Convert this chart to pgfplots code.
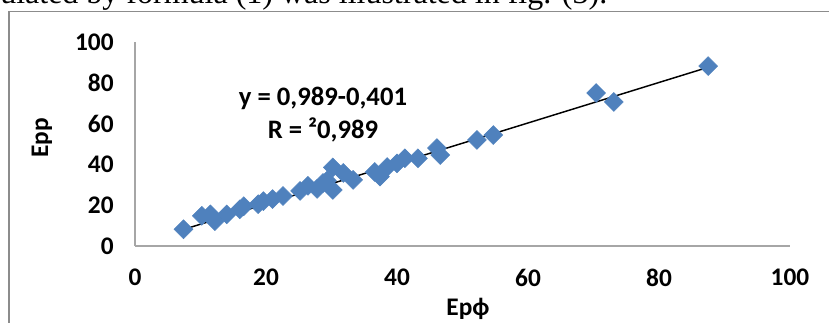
\documentclass[border=0pt]{standalone}
\usepackage{pgfplots}
\pgfplotsset{compat=1.18}
\usepackage{fontspec}
\setmainfont{Carlito}
\newfontfamily\serif{Liberation Serif}
\definecolor{mblue}{HTML}{4F81BD}
\definecolor{axgray}{HTML}{A6A6A6}
\definecolor{framegray}{HTML}{8C8C8C}
\pgfplotstableread{
x y
7.4 8.2
10.2 14.8
11.5 15.5
12.2 12.2
14.0 15.5
16.0 18.0
16.6 19.5
18.8 20.5
19.6 22.0
21.0 23.0
22.6 24.5
25.2 27.0
26.4 29.5
27.8 28.0
29.3 32.0
28.7 30.9
30.2 27.5
30.2 38.5
31.8 35.8
33.3 32.4
36.6 36.3
37.4 34.0
38.5 38.7
40.0 40.5
41.2 43.0
43.2 43.0
46.1 48.0
46.6 44.6
52.2 52.0
54.7 54.4
70.4 75.0
73.1 70.6
87.5 88.2
}\datatable
\begin{document}
\begin{tikzpicture}
\useasboundingbox (0pt,0pt) rectangle (621.75pt,241.5pt);
\clip (0pt,0pt) rectangle (621.75pt,241.5pt);
% pixel (px,py) -> (0.75*px pt, 0.75*(322-py) pt)
\node[anchor=base west, inner sep=0pt, font=\serif\fontsize{24}{24}\selectfont] at (0pt,238.5pt) {ulated by formula (1) was illustrated in fig. (3).};
\draw[framegray, line width=1.1pt] (6.75pt,-10pt) -- (6.75pt,232.7pt) -- (640pt,232.7pt);
\begin{axis}[
  at={(101.25pt,57pt)}, anchor=south west,
  scale only axis, width=491.25pt, height=153pt,
  xmin=0, xmax=100, ymin=0, ymax=100,
  axis x line*=bottom, axis y line*=left,
  axis line style={-, draw=axgray, line width=1pt},
  xtick={0,20,...,100}, ytick={0,20,...,100},
  major tick length=0pt,
  /pgf/number format/assume math mode=true,
  tick label style={font=\bfseries\fontsize{19}{19}\selectfont, text=black},
  yticklabel style={xshift=-12.5pt},
  xticklabel style={yshift=-14pt},
  clip=false,
]
\addplot[only marks, mark=square*, mark size=5pt, mark options={rotate=45, fill=mblue, draw=mblue}] table[x=x,y=y] {\datatable};
\addplot[black, line width=1.1pt, no marks] coordinates {(7.6,8.3) (87.6,87.7)};
\end{axis}
\node[rotate=90, font=\bfseries\fontsize{19}{19}\selectfont] at (31.5pt,138pt) {Ерр};
\node[anchor=base, font=\bfseries\fontsize{19}{19}\selectfont] at (351pt,5.25pt) {Ерф};
\node[font=\bfseries\fontsize{20}{20}\selectfont] at (242.25pt,168pt) {y = 0,989-0,401};
\node[font=\bfseries\fontsize{20}{20}\selectfont] at (242.25pt,144pt) {R = ²0,989};
\end{tikzpicture}
\end{document}
